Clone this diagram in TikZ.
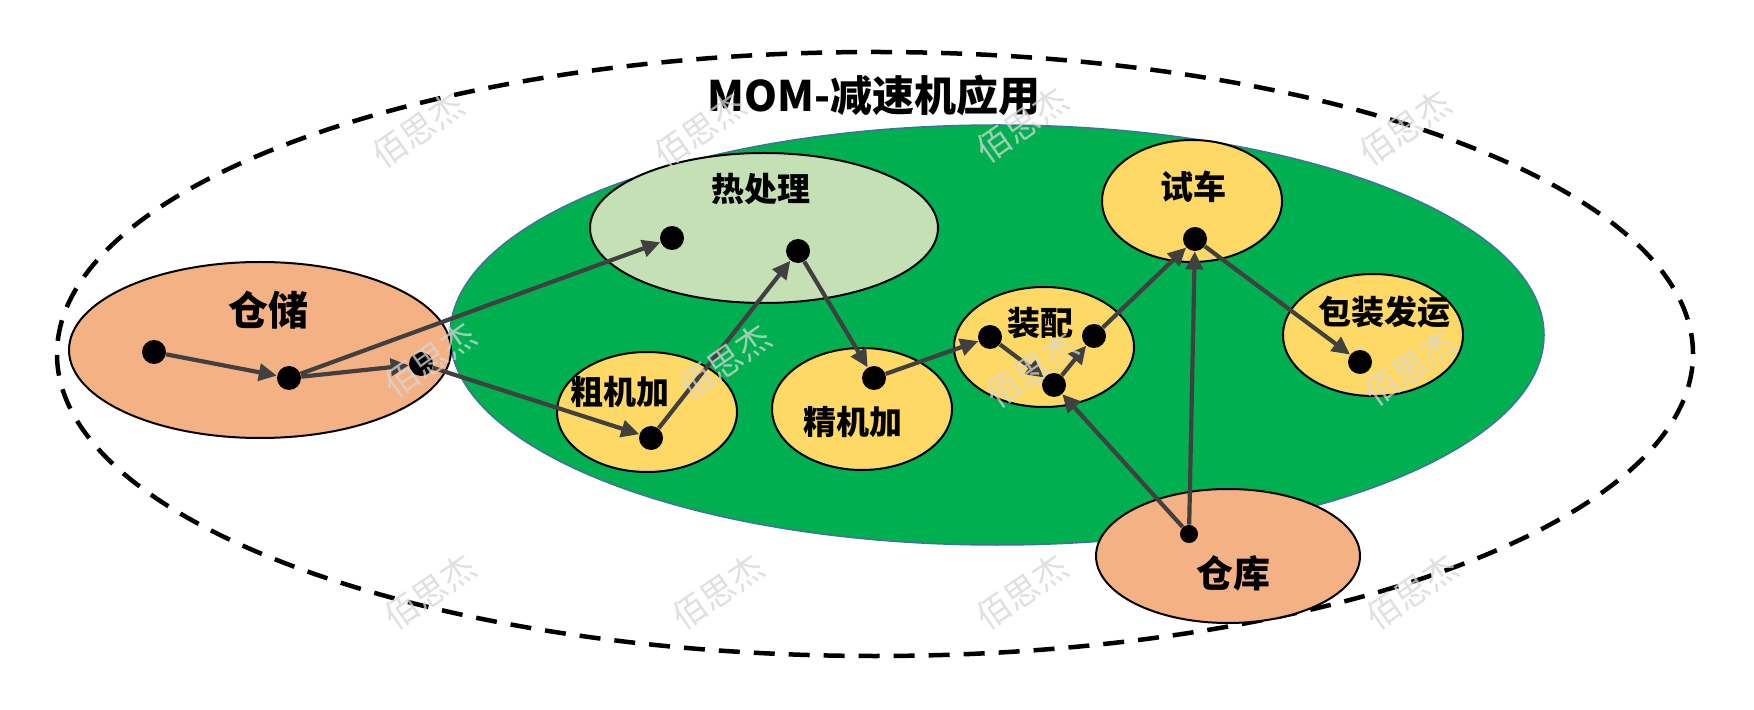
\documentclass[tikz,border=0pt]{standalone}
\usepackage{fontspec}
\setmainfont{Noto Sans CJK SC}
\usetikzlibrary{shapes.geometric,arrows.meta}
\definecolor{orangefill}{HTML}{F4B183}
\definecolor{yellowfill}{HTML}{FFD966}
\definecolor{lgreenfill}{HTML}{C5E0B4}
\definecolor{bigGreen}{HTML}{00B050}
\definecolor{greenEdge}{HTML}{41719C}
\definecolor{arrowGray}{HTML}{404040}
\definecolor{wmGray}{HTML}{D6D6D6}
\tikzset{
  zone/.style={ellipse, draw=black, line width=1pt, inner sep=0pt},
  dotnode/.style={circle, fill=black, inner sep=0pt, minimum size=12pt},
  flow/.style={draw=arrowGray, line width=2.1pt, -{Triangle[length=9pt,width=8.5pt]}},
  lbl/.style={font=\bfseries\fontsize{16.5}{18}\selectfont, inner sep=0pt},
  wm/.style={text=wmGray, font=\fontsize{17}{19}\selectfont, rotate=35, opacity=0.75, inner sep=0pt}
}
\begin{document}
\begin{tikzpicture}[x=0.5pt,y=-0.5pt]
\useasboundingbox (0,0) rectangle (1754,710);
\fill[white] (0,0) rectangle (1754,710);
% outer boundary
\node[ellipse, draw=black, dash pattern=on 10.5pt off 7pt, line width=2.25pt,
      minimum width=818pt, minimum height=302pt, inner sep=0pt] (outer) at (875,354) {};
\node[font=\bfseries\fontsize{21}{24}\selectfont, inner sep=0pt] (title) at (874,95) {MOM-减速机应用};
% big green zone
\node[ellipse, fill=bigGreen, draw=greenEdge, line width=0.75pt,
      minimum width=547pt, minimum height=210pt, inner sep=0pt] (plant) at (997,335) {};
% process ellipses
\node[zone, fill=orangefill, minimum width=191pt, minimum height=88pt] (cangchu) at (260,350) {};
\node[zone, fill=lgreenfill, minimum width=174pt, minimum height=75pt] (rechuli) at (764,228) {};
\node[zone, fill=yellowfill, minimum width=90pt, minimum height=60pt] (cujijia) at (647,412) {};
\node[zone, fill=yellowfill, minimum width=90pt, minimum height=61pt] (jingjijia) at (862,409) {};
\node[zone, fill=yellowfill, minimum width=90pt, minimum height=60pt] (zhuangpei) at (1044,347) {};
\node[zone, fill=yellowfill, minimum width=90pt, minimum height=61pt] (shiche) at (1192,201) {};
\node[zone, fill=yellowfill, minimum width=90pt, minimum height=61pt] (baozhuang) at (1373,335) {};
\node[zone, fill=orangefill, minimum width=132pt, minimum height=67pt] (cangku) at (1228,556) {};
% labels
\node[lbl, font=\bfseries\fontsize{20}{22}\selectfont] (cangchuT) at (268,310) {仓储};
\node[lbl] (rechuliT) at (761,189) {热处理};
\node[lbl] (cujijiaT) at (620,392) {粗机加};
\node[lbl] (jingjijiaT) at (853,422) {精机加};
\node[lbl] (zhuangpeiT) at (1040,323) {装配};
\node[lbl] (shicheT) at (1193,187) {试车};
\node[lbl] (baozhuangT) at (1384,312) {包装发运};
\node[lbl, font=\bfseries\fontsize{18.5}{20}\selectfont] (cangkuT) at (1233,573) {仓库};
% dots
\node[dotnode] (c1) at (154,352) {};
\node[dotnode] (c2) at (289,378) {};
\node[dotnode] (c3) at (421,364) {};
\node[dotnode] (h1) at (672,238) {};
\node[dotnode] (h2) at (798,251) {};
\node[dotnode] (r1) at (651,438) {};
\node[dotnode] (f1) at (874,378) {};
\node[dotnode] (a1) at (990,337) {};
\node[dotnode] (a2) at (1054,385) {};
\node[dotnode] (a3) at (1094,336) {};
\node[dotnode] (t1) at (1195,239) {};
\node[dotnode] (p1) at (1360,362) {};
\node[dotnode, minimum size=9pt] (w1) at (1189,534) {};
% flows
\draw[flow] (c1) -- (c2);
\draw[flow] (c2) -- (h1);
\draw[flow] (c2) -- (c3);
\draw[flow] (c3) -- (r1);
\draw[flow] (r1) -- (h2);
\draw[flow] (h2) -- (f1);
\draw[flow] (f1) -- (a1);
\draw[flow] (a1) -- (a2);
\draw[flow] (a2) -- (a3);
\draw[flow] (a3) -- (t1);
\draw[flow] (t1) -- (p1);
\draw[flow] (w1) -- (a2);
\draw[flow] (w1) -- (t1);
% watermarks
\node[wm] (wm1) at (418,130) {佰思杰};
\node[wm] (wm2) at (700,130) {佰思杰};
\node[wm] (wm3) at (1022,125) {佰思杰};
\node[wm] (wm4) at (1405,128) {佰思杰};
\node[wm] (wm5) at (430,360) {佰思杰};
\node[wm] (wm6) at (725,362) {佰思杰};
\node[wm] (wm7) at (1032,370) {佰思杰};
\node[wm] (wm8) at (1410,368) {佰思杰};
\node[wm] (wm9) at (430,592) {佰思杰};
\node[wm] (wm10) at (718,592) {佰思杰};
\node[wm] (wm11) at (1022,592) {佰思杰};
\node[wm] (wm12) at (1412,592) {佰思杰};
\end{tikzpicture}
\end{document}
